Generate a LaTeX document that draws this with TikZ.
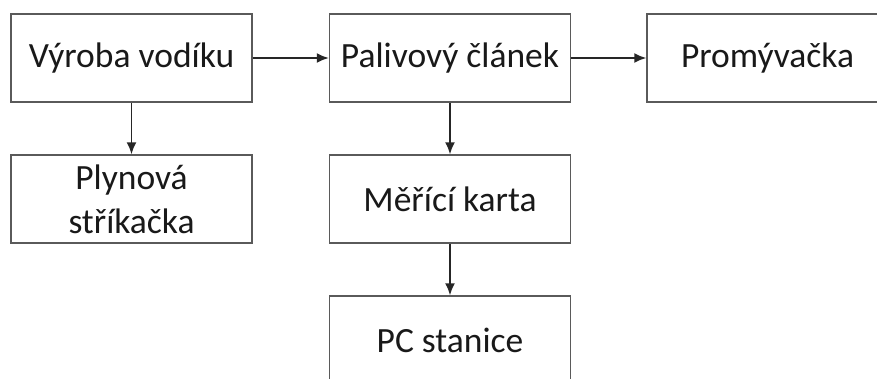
\documentclass[tikz,border=0pt]{standalone}
\usepackage{fontspec}
\setmainfont{Carlito}
\usetikzlibrary{arrows.meta}
\definecolor{boxgray}{HTML}{5A5A5A}
\tikzset{
  blk/.style={draw=boxgray, line width=1.5pt, minimum width=241pt, minimum height=88pt,
    inner sep=0pt, align=center, text=black!90, font=\fontsize{35.5}{44}\selectfont},
  conn/.style={line width=1.6pt, black!85, -{Latex[length=12pt,width=10pt]}}
}
\begin{document}
\begin{tikzpicture}[x=1pt,y=-1pt]
\useasboundingbox (0,0) rectangle (877,378);
\clip (0,0) rectangle (877,378);
\fill[white] (0,0) rectangle (877,378);
\node[blk] (vyroba) at (131.5,58) {Výroba vodíku};
\node[blk] (palivo) at (450,58) {Palivový článek};
\node[blk] (promy) at (767.5,58) {Promývačka};
\node[blk] (plyn) at (131.5,199) {Plynová\\stříkačka};
\node[blk] (meric) at (450,199) {Měřící karta};
\node[blk] (pc) at (450,340) {PC stanice};
\draw[conn] (vyroba) -- (palivo);
\draw[conn] (palivo) -- (promy);
\draw[conn] (vyroba) -- (plyn);
\draw[conn] (palivo) -- (meric);
\draw[conn] (meric) -- (pc);
\end{tikzpicture}
\end{document}
